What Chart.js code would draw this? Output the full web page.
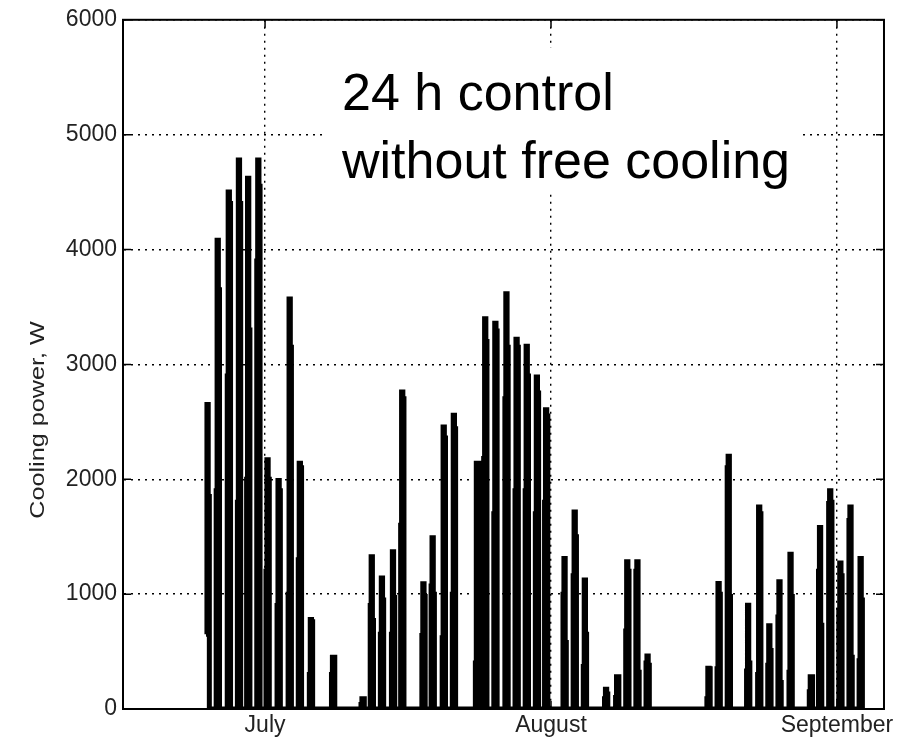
<!DOCTYPE html>
<html>
<head>
<meta charset="utf-8">
<script src="https://cdn.jsdelivr.net/npm/chart.js@4.4.0/dist/chart.umd.min.js"></script>
<style>
  html, body { margin: 0; padding: 0; background: #fff; }
</style>
</head>
<body>
<canvas id="coolingChart" width="897" height="740"></canvas>
<script>
// days counted from 1 July (1 August = 31, 1 September = 62)
const dayStart = [-6.4, -5.3, -4.1, -3.0, -2.0, -0.9, 0.1, 1.3, 2.5, 3.6, 4.8, 7.2,
  10.4, 11.4, 12.5, 13.7, 14.7, 17.0, 18.0, 19.2, 20.3,
  22.8, 23.7, 24.8, 26.0, 27.1, 28.2, 29.3, 30.3,
  32.3, 33.4, 34.5, 36.8, 38.0, 39.1, 40.2, 41.3,
  47.9, 49.0, 50.1, 52.2, 53.4, 54.5, 55.6, 56.8,
  59.0, 60.0, 61.1, 62.2, 63.3, 64.4];
// cooling power in W: level on the way up, daily peak, level on the way down
const risePower = [650, 1900, 2900, 1800, 2000, 3900, 1200, 900, 1000, 1300, 300, 300,
  40, 900, 650, 650, 1600, 640, 1070, 620, 1000,
  400, 2180, 1700, 2700, 1900, 1900, 1700, 1800,
  1000, 1160, 370, 90, 100, 680, 1200, 400,
  90, 350, 2100, 330, 300, 380, 800, 320,
  150, 1200, 1790, 860, 1640, 420];
const peakPower = [2650, 4080, 4500, 4780, 4620, 4780, 2170, 1990, 3570, 2140, 780, 450,
  90, 1325, 1140, 1370, 2760, 1090, 1490, 2455, 2557,
  2140, 3397, 3359, 3614, 3220, 3157, 2890, 2606,
  1310, 1716, 1122, 171, 281, 1281, 1281, 461,
  354, 1093, 2200, 904, 1759, 725, 1107, 1348,
  281, 1580, 1899, 1272, 1759, 1310];
const fallPower = [1850, 3650, 4400, 4400, 3300, 4550, 2000, 1900, 3150, 2100, 760, 450,
  90, 770, 950, 970, 2700, 980, 1000, 2360, 2440,
  2140, 3200, 3290, 3150, 3150, 2900, 2750, 2550,
  580, 1500, 650, 130, 281, 1200, 320, 380,
  350, 1000, 980, 400, 1700, 510, 230, 980,
  281, 730, 1800, 1160, 450, 950];

const monthDays = [0, 31, 62];
const monthLabels = ["July", "August", "September"];
const noteLines = ["24 h control", "without free cooling"];
const yTitle = "Cooling power, W";

const FONT = '"Liberation Sans", Arial, Helvetica, sans-serif';

// one stepped pulse per day (step drawn before each point)
const points = [];
dayStart.forEach((d, i) => {
  points.push({ x: d, y: risePower[i] });
  points.push({ x: d + 0.1, y: peakPower[i] });
  points.push({ x: d + 0.24, y: fallPower[i] });
  points.push({ x: d + 0.36, y: 0 });
});

const framePlugin = {
  id: "frame",
  beforeDatasetsDraw(chart) {
    const ctx = chart.ctx;
    // the note sits on a white patch that hides the grid
    ctx.save();
    ctx.fillStyle = "#fff";
    ctx.fillRect(325, 48, 478, 145);
    ctx.restore();
  },
  afterDatasetsDraw(chart) {
    const { ctx, chartArea: a, scales } = chart;
    ctx.save();
    ctx.strokeStyle = "#000";
    ctx.lineWidth = 2;
    ctx.strokeRect(a.left, a.top, a.right - a.left, a.bottom - a.top);

    ctx.lineWidth = 1.5;
    ctx.beginPath();
    scales.y.ticks.forEach(t => {
      const py = scales.y.getPixelForValue(t.value);
      ctx.moveTo(a.left, py); ctx.lineTo(a.left + 8, py);
      ctx.moveTo(a.right, py); ctx.lineTo(a.right - 8, py);
    });
    scales.x.ticks.forEach(t => {
      const px = scales.x.getPixelForValue(t.value);
      ctx.moveTo(px, a.bottom); ctx.lineTo(px, a.bottom - 8);
      ctx.moveTo(px, a.top); ctx.lineTo(px, a.top + 8);
    });
    ctx.stroke();

    ctx.fillStyle = "#000";
    ctx.font = "52px " + FONT;
    ctx.textBaseline = "alphabetic";
    ctx.fillText(noteLines[0], 342, 110);
    ctx.fillText(noteLines[1], 342, 178);

    ctx.translate(38, 420);
    ctx.rotate(-Math.PI / 2);
    ctx.scale(1.2, 1);
    ctx.textAlign = "center";
    ctx.textBaseline = "middle";
    ctx.font = "21px " + FONT;
    ctx.fillStyle = "#222";
    ctx.fillText(yTitle, 0, 0);
    ctx.restore();
  }
};

new Chart(document.getElementById("coolingChart"), {
  type: "line",
  data: {
    datasets: [{
      data: points,
      borderColor: "#000",
      borderWidth: 5,
      borderJoinStyle: "miter",
      stepped: "before",
      pointRadius: 0,
      fill: false
    }]
  },
  options: {
    responsive: false,
    animation: false,
    parsing: false,
    layout: { padding: { left: 0, right: 13, top: 18, bottom: 0 } },
    plugins: { legend: { display: false }, tooltip: { enabled: false } },
    scales: {
      x: {
        type: "linear",
        min: -15.4,
        max: 67.1,
        afterBuildTicks: s => { s.ticks = monthDays.map(v => ({ value: v })); },
        ticks: {
          callback: (v, i) => monthLabels[i],
          autoSkip: false,
          maxRotation: 0,
          padding: 3,
          color: "#222",
          font: { family: FONT, size: 23 }
        },
        grid: { color: "#000", lineWidth: 1.4, drawTicks: false },
        border: { display: true, color: "#000", width: 2, dash: [2, 5] },
        afterFit: s => { s.height = 31; }
      },
      y: {
        min: 0,
        max: 6000,
        ticks: {
          stepSize: 1000,
          padding: 6,
          color: "#222",
          font: { family: FONT, size: 23 },
          callback: v => String(v)
        },
        grid: { color: "#000", lineWidth: 1.4, drawTicks: false },
        border: { display: true, color: "#000", width: 2, dash: [2, 5] },
        afterFit: s => { s.width = 123; }
      }
    }
  },
  plugins: [framePlugin]
});
</script>
</body>
</html>
